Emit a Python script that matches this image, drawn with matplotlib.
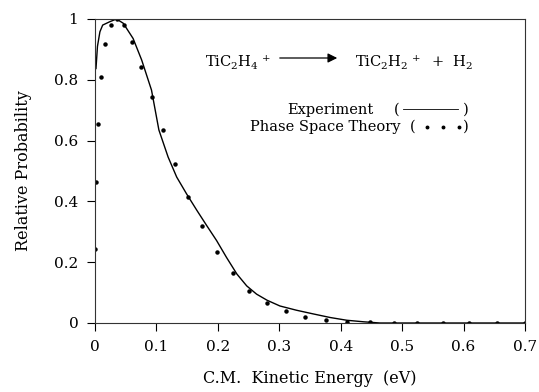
import matplotlib
matplotlib.use("Agg")
from matplotlib import pyplot as plt

plt.rcParams['font.family'] = 'DejaVu Serif'
plt.rcParams['mathtext.fontset'] = 'dejavuserif'

# experiment (solid line)
exp_energy = [0.0016, 0.004, 0.008, 0.0125, 0.024, 0.035, 0.046, 0.062, 0.076, 0.092, 0.104,
              0.119, 0.133, 0.149, 0.166, 0.182, 0.198, 0.214, 0.231, 0.247, 0.263,
              0.280, 0.301, 0.328, 0.355, 0.383, 0.410, 0.437, 0.464, 0.55, 0.7]
exp_prob = [0.837, 0.91, 0.958, 0.98, 0.991, 1.0, 0.986, 0.936, 0.865, 0.766, 0.635,
            0.546, 0.480, 0.425, 0.370, 0.320, 0.271, 0.216, 0.161, 0.122, 0.095,
            0.075, 0.056, 0.042, 0.030, 0.018, 0.009, 0.004, 0.0, 0.0, 0.0]

# phase space theory (dots)
pst_energy = [0.0003, 0.0012, 0.0054, 0.0103, 0.0168, 0.0256, 0.0358, 0.0467, 0.0602, 0.0749,
              0.0923, 0.110, 0.130, 0.151, 0.174, 0.198, 0.224, 0.251, 0.280, 0.311,
              0.342, 0.376, 0.411, 0.448, 0.486, 0.524, 0.566, 0.609, 0.654, 0.700]
pst_prob = [0.243, 0.465, 0.656, 0.809, 0.917, 0.980, 0.999, 0.980, 0.925, 0.843,
            0.744, 0.635, 0.524, 0.416, 0.318, 0.233, 0.163, 0.106, 0.066, 0.038,
            0.021, 0.010, 0.004, 0.002, 0.001, 0.0, 0.0, 0.0, 0.0, 0.0]

xticks = [0, 0.1, 0.2, 0.3, 0.4, 0.5, 0.6, 0.7]
xticklabels = ['0', '0.1', '0.2', '0.3', '0.4', '0.5', '0.6', '0.7']
yticks = [0, 0.2, 0.4, 0.6, 0.8, 1]
yticklabels = ['0', '0.2', '0.4', '0.6', '0.8', '1']

fig = plt.figure(figsize=(5.39, 3.92), dpi=100)
ax = fig.add_axes([95/539, 1-323/392, 430/539, 304/392])

ax.plot(exp_energy, exp_prob, color='black', lw=1.0)
ax.plot(pst_energy, pst_prob, ls='none', marker='o', ms=2.2, color='black')

ax.set_xlim(0, 0.7)
ax.set_ylim(0, 1)
ax.set_xticks(xticks)
ax.set_xticklabels(xticklabels)
ax.set_yticks(yticks)
ax.set_yticklabels(yticklabels)
ax.tick_params(direction='out', length=6, width=0.8, labelsize=11, pad=6)
for s in ax.spines.values():
    s.set_linewidth(0.8)
    s.set_color('#333333')

ax.set_xlabel('C.M.  Kinetic Energy  (eV)', fontsize=11.5, labelpad=12)
ax.set_ylabel('Relative Probability', fontsize=11.5, labelpad=16)

# reaction
def fx(px):
    return (px - 95) / 430.0

def fy(py):
    return (323 - py) / 304.0

ax.text(fx(205), fy(61), r'TiC$_2$H$_4$$^{\,+}$', transform=ax.transAxes, fontsize=10.5,
        ha='left', va='center')
ax.annotate('', xy=(fx(340), fy(58)), xytext=(fx(277), fy(58)),
            xycoords='axes fraction', textcoords='axes fraction',
            arrowprops=dict(arrowstyle='-|>', color='black', lw=0.9, mutation_scale=14))
ax.text(fx(355), fy(61), r'TiC$_2$H$_2$$^{\,+}$  +  H$_2$', transform=ax.transAxes,
        fontsize=10.5, ha='left', va='center')

# legend
ax.text(fx(373), fy(110), 'Experiment', transform=ax.transAxes, fontsize=10.5,
        ha='right', va='center')
ax.text(fx(397), fy(110), '(', transform=ax.transAxes, fontsize=10.5, ha='center', va='center')
ax.plot([fx(403), fx(458)], [fy(109), fy(109)], transform=ax.transAxes, color='black', lw=0.6)
ax.text(fx(466), fy(110), ')', transform=ax.transAxes, fontsize=10.5, ha='center', va='center')

ax.text(fx(400), fy(127), 'Phase Space Theory', transform=ax.transAxes, fontsize=10.5,
        ha='right', va='center')
ax.text(fx(413), fy(127), '(', transform=ax.transAxes, fontsize=10.5, ha='center', va='center')
ax.plot([fx(427), fx(443), fx(459)], [fy(127)] * 3, transform=ax.transAxes, ls='none',
        marker='o', ms=1.8, color='black')
ax.text(fx(466), fy(127), ')', transform=ax.transAxes, fontsize=10.5, ha='center', va='center')

fig.savefig('out.png', dpi=100)
